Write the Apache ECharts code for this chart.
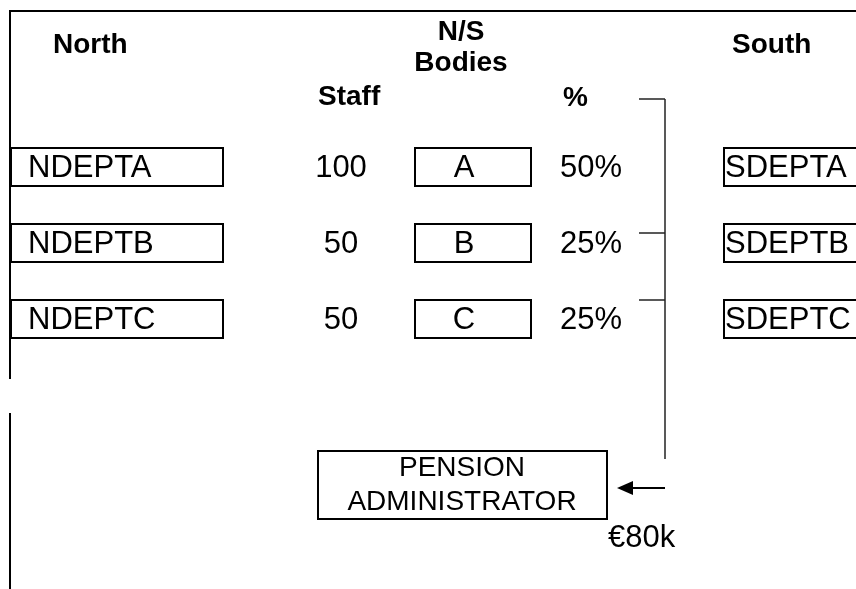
<!DOCTYPE html>
<html lang="en">
<head>
<meta charset="UTF-8">
<title>Pension administrator cost split</title>
<script src="https://cdn.jsdelivr.net/npm/echarts@6/dist/echarts.min.js"></script>
<style>html,body{margin:0;padding:0;background:#fff}</style>
</head>
<body>
<div id="main" style="width:856px;height:589px"></div>
<script>
// data
var northDepts = ['NDEPTA', 'NDEPTB', 'NDEPTC'];
var staff = [100, 50, 50];
var bodies = ['A', 'B', 'C'];
var shares = [50, 25, 25];
var southDepts = ['SDEPTA', 'SDEPTB', 'SDEPTC'];
var administrator = ['PENSION', 'ADMINISTRATOR'];
var adminCost = 80;

// layout (pixels, axes map 1:1 onto the canvas)
var W = 856, H = 589;
var FONT = '"Liberation Sans", Arial, sans-serif';
var rowMid = 167, rowStep = 76, boxH = 38;

var myChart = echarts.init(document.getElementById('main'));

// y of text middle for a given baseline
function mid(base, size) {
    return base - 0.34 * size;
}

function label(x, y, s, size, bold, align) {
    return {
        type: 'text',
        silent: true,
        style: {
            text: s, x: x, y: y, fill: '#000',
            fontFamily: FONT, fontSize: size, fontWeight: bold ? 'bold' : 'normal',
            align: align || 'left', verticalAlign: 'middle'
        }
    };
}

function seg(x1, y1, x2, y2, w, c) {
    return {
        type: 'line', silent: true,
        shape: {x1: x1, y1: y1, x2: x2, y2: y2},
        style: {stroke: c || '#000', lineWidth: w || 2}
    };
}

var rows = northDepts.map(function (d, i) {
    return [i, rowMid + i * rowStep];
});

var option = {
    animation: false,
    grid: {left: 0, right: 0, top: 0, bottom: 0},
    xAxis: {type: 'value', min: 0, max: W, show: false},
    yAxis: {type: 'value', min: 0, max: H, inverse: true, show: false},
    graphic: [
        // frame
        seg(9, 11, W, 11, 2),
        seg(10, 10, 10, 379, 2),
        seg(10, 413, 10, H, 2),
        // headers
        label(53, mid(55, 28), 'North', 28, true),
        label(461, mid(42, 28), 'N/S', 28, true, 'center'),
        label(461, mid(73, 28), 'Bodies', 28, true, 'center'),
        label(732, mid(55, 28), 'South', 28, true),
        label(318, mid(107, 28), 'Staff', 28, true),
        label(563, mid(108, 28), '%', 28, true),
        // bracket
        seg(639, 99, 665, 99, 1.5, '#222'),
        seg(665, 99, 665, 459, 1.5, '#222'),
        seg(639, 233, 665, 233, 1.5, '#222'),
        seg(639, 300, 665, 300, 1.5, '#222'),
        // arrow to administrator
        seg(630, 488, 665, 488, 2),
        {
            type: 'polygon', silent: true,
            shape: {points: [[617, 488], [633, 481], [633, 495]]},
            style: {fill: '#000'}
        },
        // administrator box
        {
            type: 'rect', silent: true,
            shape: {x: 318, y: 451, width: 289, height: 68},
            style: {fill: 'none', stroke: '#000', lineWidth: 2}
        },
        label(462, mid(478, 28), administrator[0], 28, false, 'center'),
        label(462, mid(512, 28), administrator[1], 28, false, 'center'),
        label(608, mid(549, 31), '€' + adminCost + 'k', 31, false)
    ],
    series: [{
        type: 'custom',
        data: rows,
        clip: false,
        renderItem: function (params, api) {
            var i = api.value(0);
            var p = api.coord([0, api.value(1)]);
            var y = p[1];
            var top = y - boxH / 2;
            var box = function (x1, x2) {
                var a = api.coord([x1, 0])[0], b = api.coord([x2, 0])[0];
                return {
                    type: 'rect',
                    shape: {x: a, y: top, width: b - a, height: boxH},
                    style: {fill: 'none', stroke: '#000', lineWidth: 2}
                };
            };
            var cx = function (x) { return api.coord([x, 0])[0]; };
            return {
                type: 'group',
                children: [
                    box(11, 223),
                    label(cx(28), y + 1, northDepts[i], 31),
                    label(cx(341), y + 1, String(staff[i]), 31, false, 'center'),
                    box(415, 531),
                    label(cx(464), y + 1, bodies[i], 31, false, 'center'),
                    label(cx(591), y + 1, shares[i] + '%', 31, false, 'center'),
                    box(724, 880),
                    label(cx(725), y + 1, southDepts[i], 31)
                ]
            };
        }
    }]
};

myChart.setOption(option);
</script>
</body>
</html>
